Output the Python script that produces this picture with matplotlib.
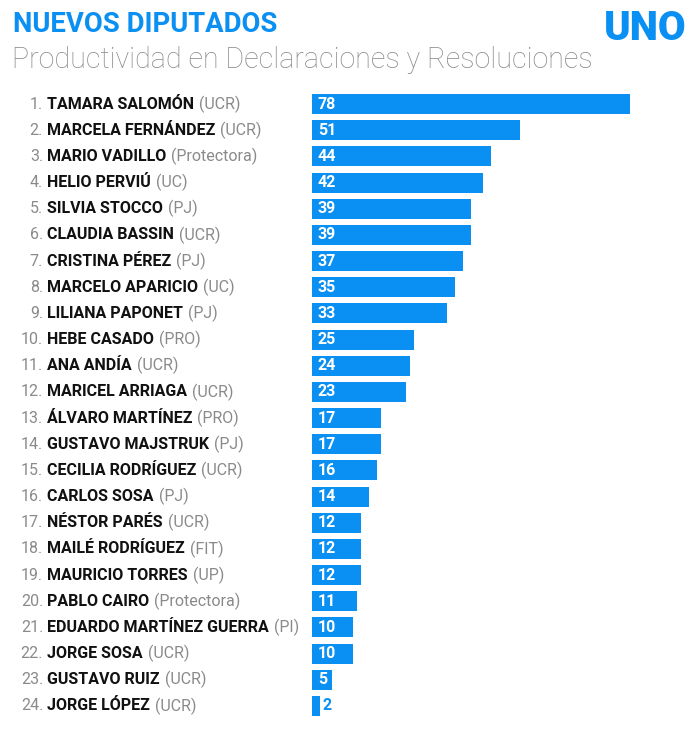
import matplotlib.pyplot as plt
from matplotlib.transforms import blended_transform_factory

plt.rcParams['font.family'] = ['Roboto', 'DejaVu Sans']

names = ['TAMARA SALOMÓN', 'MARCELA FERNÁNDEZ', 'MARIO VADILLO', 'HELIO PERVIÚ',
         'SILVIA STOCCO', 'CLAUDIA BASSIN', 'CRISTINA PÉREZ', 'MARCELO APARICIO',
         'LILIANA PAPONET', 'HEBE CASADO', 'ANA ANDÍA', 'MARICEL ARRIAGA',
         'ÁLVARO MARTÍNEZ', 'GUSTAVO MAJSTRUK', 'CECILIA RODRÍGUEZ', 'CARLOS SOSA',
         'NÉSTOR PARÉS', 'MAILÉ RODRÍGUEZ', 'MAURICIO TORRES', 'PABLO CAIRO',
         'EDUARDO MARTÍNEZ GUERRA', 'JORGE SOSA', 'GUSTAVO RUIZ', 'JORGE LÓPEZ']
parties = ['UCR', 'UCR', 'Protectora', 'UC', 'PJ', 'UCR', 'PJ', 'UC', 'PJ', 'PRO',
           'UCR', 'UCR', 'PRO', 'PJ', 'UCR', 'PJ', 'UCR', 'FIT', 'UP', 'Protectora',
           'PI', 'UCR', 'UCR', 'UCR']
values = [78, 51, 44, 42, 39, 39, 37, 35, 33, 25, 24, 23, 17, 17, 16, 14,
          12, 12, 12, 11, 10, 10, 5, 2]

blue = '#0a8ff2'
gray = '#8a8a8a'

fig = plt.figure(figsize=(7, 7.36), dpi=100)
ax = fig.add_axes([312 / 700, 1 - 719 / 736, 318 / 700, 628 / 736])
n = len(values)
ypos = list(range(n))
ax.barh(ypos, values, height=0.77, color=blue)
ax.set_xlim(0, 78)
ax.set_ylim(n - 0.5, -0.5)
ax.axis('off')

tr = blended_transform_factory(fig.transFigure, ax.transData)
fig.canvas.draw()
renderer = fig.canvas.get_renderer()
for i, (nm, pt, v) in enumerate(zip(names, parties, values)):
    fig.text(43 / 700, i, f'{i + 1}.', transform=tr, ha='right', va='center',
             fontsize=11.5, color=gray)
    t = fig.text(47 / 700, i, nm, transform=tr, ha='left', va='center',
                 fontsize=11.5, fontweight='bold', color='#111111')
    bb = t.get_window_extent(renderer)
    fig.text((bb.x1 + 5) / 700, i, f'({pt})', transform=tr, ha='left', va='center',
             fontsize=11.5, color=gray)
    if v >= 5:
        ax.text(1.4, i, str(v), ha='left', va='center', fontsize=11.5,
                fontweight='bold', color='white')
    else:
        ax.text(v + 0.6, i, str(v), ha='left', va='center', fontsize=11.5,
                fontweight='bold', color=blue)

fig.text(13 / 700, 1 - 24 / 736, 'NUEVOS DIPUTADOS', ha='left', va='center',
         fontsize=19.8, fontweight='bold', color=blue)
fig.text(12 / 700, 1 - 60 / 736, 'Productividad en Declaraciones y Resoluciones',
         ha='left', va='center', fontsize=20.6, fontweight='light', color=gray)
fig.text(687 / 700, 1 - 28 / 736, 'UNO', ha='right', va='center',
         fontsize=29, fontweight='black', color=blue)

fig.savefig('out.png', dpi=100, facecolor='white')
